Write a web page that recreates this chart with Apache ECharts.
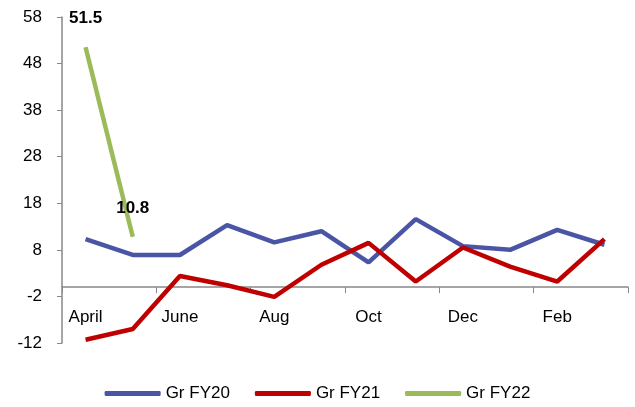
<!DOCTYPE html>
<html>
<head>
<meta charset="utf-8">
<script src="https://cdn.jsdelivr.net/npm/echarts@6/dist/echarts.min.js"></script>
<style>
  html, body { margin: 0; padding: 0; background: #fff; }
  #chart { width: 635px; height: 407px; }
</style>
</head>
<body>
<div id="chart"></div>
<script>
// months on the x axis
const months = ['April', 'May', 'June', 'July', 'Aug', 'Sep', 'Oct', 'Nov', 'Dec', 'Jan', 'Feb', 'Mar'];
// growth series
const grFY20 = [10.3, 6.9, 6.9, 13.3, 9.6, 12.0, 5.3, 14.6, 8.8, 8.0, 12.3, 9.1];
const grFY21 = [-11.3, -9.0, 2.4, 0.4, -2.1, 4.8, 9.5, 1.2, 8.5, 4.4, 1.2, 10.3];
const grFY22 = [51.5, 10.8, '-', '-', '-', '-', '-', '-', '-', '-', '-', '-'];
const seriesNames = ['Gr FY20', 'Gr FY21', 'Gr FY22'];
const colors = ['#4A55A5', '#C00000', '#9BBB59'];

const font = 'Liberation Sans, Arial, sans-serif';
const chart = echarts.init(document.getElementById('chart'));

const lineSeries = (name, data, color, showLabel) => ({
  name: name,
  type: 'line',
  data: data,
  symbol: 'circle',
  symbolSize: 1,
  showSymbol: showLabel,
  lineStyle: { width: 4.5, color: color },
  itemStyle: { color: color },
  label: {
    show: showLabel,
    position: 'top',
    distance: 20,
    fontFamily: font,
    fontSize: 17,
    fontWeight: 'bold',
    color: '#000'
  },
  animation: false
});

chart.setOption({
  animation: false,
  grid: { left: 62, right: 7, top: 17, bottom: 64 },
  legend: {
    bottom: 0,
    left: 'center',
    itemWidth: 56,
    itemHeight: 5,
    itemGap: 25,
    icon: 'roundRect',
    textStyle: { fontFamily: font, fontSize: 17, color: '#000' },
    data: seriesNames
  },
  xAxis: {
    type: 'category',
    data: months,
    boundaryGap: true,
    axisLine: { onZero: true, lineStyle: { color: '#888', width: 1.5 } },
    axisTick: { show: true, interval: 1, length: 6, lineStyle: { color: '#888' } },
    // labels sit just under the zero line, not at the grid bottom
    axisLabel: { interval: 1, margin: -34, fontFamily: font, fontSize: 17, color: '#000' }
  },
  yAxis: {
    type: 'value',
    min: -12,
    max: 58,
    interval: 10,
    splitLine: { show: false },
    axisLine: { show: true, lineStyle: { color: '#888', width: 1.5 } },
    axisTick: { show: true, length: 5, lineStyle: { color: '#888' } },
    axisLabel: { margin: 20, fontFamily: font, fontSize: 17, color: '#000' }
  },
  series: [
    lineSeries(seriesNames[0], grFY20, colors[0], false),
    lineSeries(seriesNames[1], grFY21, colors[1], false),
    lineSeries(seriesNames[2], grFY22, colors[2], true)
  ]
});
</script>
</body>
</html>
